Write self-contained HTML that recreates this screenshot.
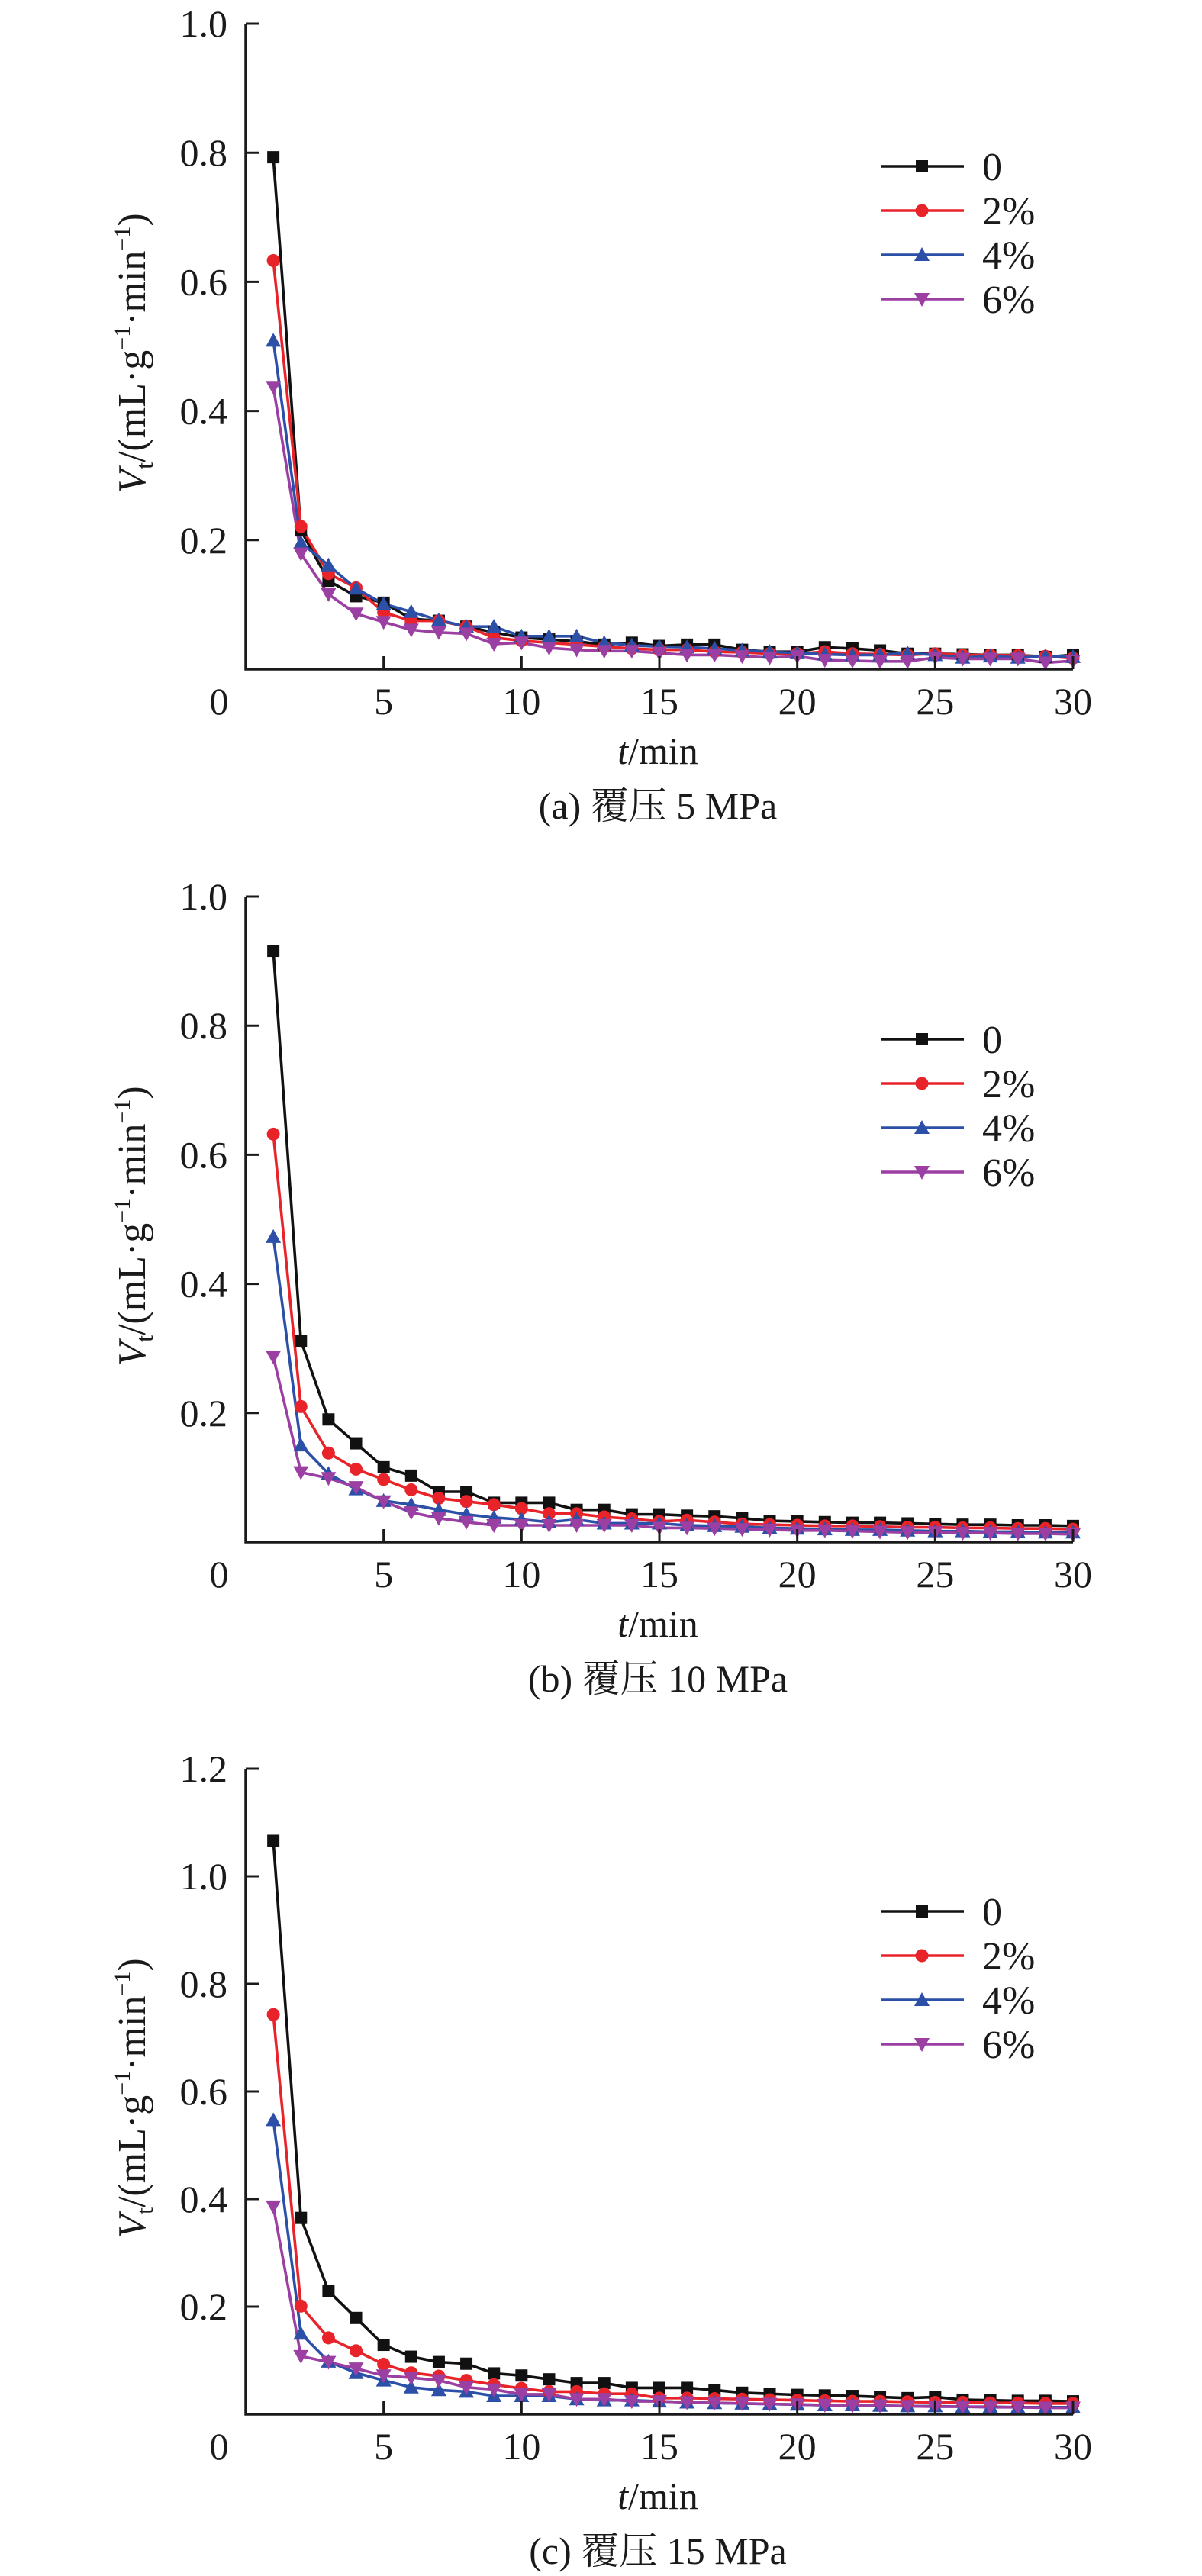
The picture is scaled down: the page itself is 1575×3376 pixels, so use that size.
<!DOCTYPE html>
<html><head><meta charset="utf-8">
<style>
html,body{margin:0;padding:0;background:#fff;}
svg{display:block;font-family:"Liberation Serif","Noto Serif CJK SC","Noto Sans CJK SC",serif;}
</style></head>
<body>
<svg id="fig" width="1575" height="3376" viewBox="0 0 1575 3376" xmlns="http://www.w3.org/2000/svg"></svg>
<script>
const times = [1,2,3,4,5,6,7,8,9,10,11,12,13,14,15,16,17,18,19,20,21,22,23,24,25,26,27,28,29,30];
const seriesNames = ["0","2%","4%","6%"];
const xTicks = [0,5,10,15,20,25,30];
const yTicksA = [0.2,0.4,0.6,0.8,1.0];
const yTicksC = [0.2,0.4,0.6,0.8,1.0,1.2];
const captions = ["(a) 覆压 5 MPa","(b) 覆压 10 MPa","(c) 覆压 15 MPa"];

const a0 = [0.793,0.215,0.137,0.113,0.103,0.078,0.075,0.066,0.057,0.049,0.046,0.043,0.038,0.041,0.036,0.038,0.038,0.030,0.027,0.027,0.034,0.032,0.029,0.024,0.024,0.023,0.022,0.022,0.019,0.022];
const a2 = [0.633,0.221,0.148,0.126,0.088,0.075,0.075,0.066,0.049,0.044,0.041,0.038,0.035,0.032,0.030,0.030,0.027,0.026,0.024,0.024,0.027,0.024,0.023,0.022,0.024,0.022,0.022,0.021,0.020,0.017];
const a4 = [0.509,0.196,0.161,0.125,0.101,0.089,0.076,0.066,0.066,0.051,0.051,0.051,0.041,0.037,0.035,0.034,0.032,0.029,0.027,0.025,0.023,0.022,0.022,0.025,0.022,0.018,0.020,0.018,0.020,0.019];
const a6 = [0.437,0.179,0.116,0.086,0.073,0.061,0.057,0.055,0.039,0.041,0.033,0.030,0.028,0.028,0.025,0.022,0.022,0.020,0.018,0.020,0.014,0.013,0.012,0.012,0.018,0.016,0.016,0.016,0.010,0.013];

const b0 = [0.916,0.312,0.190,0.153,0.116,0.103,0.078,0.078,0.061,0.061,0.061,0.050,0.050,0.043,0.043,0.041,0.040,0.037,0.033,0.032,0.031,0.030,0.030,0.029,0.028,0.027,0.027,0.026,0.026,0.025];
const b2 = [0.632,0.210,0.138,0.113,0.097,0.081,0.068,0.063,0.058,0.052,0.044,0.044,0.039,0.036,0.032,0.034,0.031,0.028,0.027,0.026,0.025,0.025,0.024,0.023,0.023,0.022,0.022,0.021,0.021,0.020];
const b4 = [0.473,0.150,0.106,0.082,0.064,0.058,0.050,0.043,0.038,0.035,0.031,0.035,0.029,0.029,0.029,0.026,0.025,0.024,0.022,0.021,0.020,0.019,0.019,0.018,0.017,0.017,0.016,0.016,0.015,0.015];
const b6 = [0.287,0.108,0.099,0.085,0.063,0.046,0.037,0.031,0.026,0.026,0.026,0.026,0.026,0.026,0.022,0.022,0.021,0.020,0.019,0.018,0.018,0.017,0.016,0.015,0.015,0.014,0.014,0.013,0.013,0.012];

const c0 = [1.066,0.365,0.229,0.179,0.129,0.107,0.097,0.094,0.076,0.072,0.065,0.058,0.058,0.049,0.049,0.049,0.045,0.040,0.038,0.036,0.035,0.034,0.032,0.030,0.032,0.027,0.026,0.025,0.025,0.024];
const c2 = [0.743,0.201,0.142,0.118,0.093,0.077,0.071,0.063,0.055,0.048,0.042,0.042,0.038,0.038,0.030,0.030,0.029,0.028,0.027,0.026,0.025,0.024,0.024,0.023,0.022,0.022,0.021,0.021,0.020,0.020];
const c4 = [0.547,0.150,0.098,0.077,0.063,0.050,0.045,0.042,0.034,0.034,0.034,0.028,0.026,0.026,0.024,0.022,0.021,0.020,0.019,0.018,0.017,0.017,0.016,0.015,0.015,0.014,0.014,0.013,0.013,0.013];
const c6 = [0.386,0.108,0.097,0.085,0.072,0.068,0.063,0.050,0.046,0.037,0.037,0.028,0.028,0.024,0.024,0.022,0.021,0.020,0.019,0.018,0.017,0.016,0.016,0.015,0.014,0.014,0.013,0.013,0.012,0.012];

const colors = ["#111111","#e8232a","#2c4fa8","#9b3fa3"];
const NS = "http://www.w3.org/2000/svg";
const svg = document.getElementById("fig");
function mk(tag, attrs, parent){ const e=document.createElementNS(NS,tag); for(const k in attrs) e.setAttribute(k,attrs[k]); (parent||svg).appendChild(e); return e; }

function marker(g, kind, x, y, col){
  let m;
  if(kind===0) m = mk("rect",{x:x-8,y:y-8,width:16,height:16,fill:col},g);
  else if(kind===1) m = mk("circle",{cx:x,cy:y,r:8.5,fill:col},g);
  else if(kind===2) m = mk("polygon",{points:`${x},${y-10} ${x-10},${y+8} ${x+10},${y+8}`,fill:col},g);
  else m = mk("polygon",{points:`${x},${y+10} ${x-10},${y-8} ${x+10},${y-8}`,fill:col},g);
  
  
  return m;
}

function chart(idx, offY, yMax, yTicks, data){
  const x0=322, x1=1406, yBase=877+offY, yTop=31+offY;
  const X = t => x0 + (t/30)*(x1-x0);
  const Y = v => yBase - (v/yMax)*(yBase-yTop);
  const g = mk("g",{});
  
  
  data.forEach((arr,si)=>{
    const pts = arr.map((v,i)=>X(times[i])+","+Y(v)).join(" ");
    const pl = mk("polyline",{points:pts,fill:"none",stroke:colors[si],"stroke-width":3.6,"stroke-linejoin":"round"},g);
    
    
  });
  data.forEach((arr,si)=>{ arr.forEach((v,i)=>marker(g,si,X(times[i]),Y(v),colors[si])); });
  const ax = mk("path",{d:`M${x0},${yTop} V${yBase} H${x1}`,fill:"none",stroke:"#1a1a1a","stroke-width":3.5},g);
  
  
  yTicks.forEach(v=>{
    const t=mk("line",{x1:x0,x2:x0+17,y1:Y(v),y2:Y(v),stroke:"#1a1a1a","stroke-width":3},g);
    
    
    const tx=mk("text",{x:298,y:Y(v)+17,"text-anchor":"end","font-size":50,fill:"#1a1a1a"},g);
    
    
    tx.textContent=v.toFixed(1);
  });
  xTicks.forEach(v=>{
    if(v>0){ const t=mk("line",{x1:X(v),x2:X(v),y1:yBase,y2:yBase-17,stroke:"#1a1a1a","stroke-width":3},g);
      
       }
    const tx=mk("text",{x:v===0?287:X(v),y:yBase+59,"text-anchor":"middle","font-size":50,fill:"#1a1a1a"},g);
    
    
    tx.textContent=v;
  });
  const xt=mk("text",{x:862,y:1001+offY,"text-anchor":"middle","font-size":50,fill:"#1a1a1a"},g);
  
  
  xt.innerHTML='<tspan font-style="italic">t</tspan>/min';
  const yt=mk("text",{x:0,y:0,"text-anchor":"middle","font-size":52,fill:"#1a1a1a",transform:`translate(190,${463+offY}) rotate(-90)`},g);
  
  
  yt.innerHTML='<tspan font-style="italic">V</tspan><tspan font-size="32" dy="10">t</tspan><tspan dy="-10">/(mL·g</tspan><tspan font-size="30" dy="-20">−1</tspan><tspan dy="20">·min</tspan><tspan font-size="30" dy="-20">−1</tspan><tspan dy="20">)</tspan>';
  const cp=mk("text",{x:862,y:1073+offY,"text-anchor":"middle","font-size":50,fill:"#1a1a1a"},g);
  
  
  cp.textContent=captions[idx];
  seriesNames.forEach((n,si)=>{
    const ly=218+offY+si*58;
    const le=mk("g",{},g);
    
    
    mk("line",{x1:1154,x2:1263,y1:ly,y2:ly,stroke:colors[si],"stroke-width":3.6},le);
    marker(le,si,1208,ly,colors[si]);
    const t=mk("text",{x:1287,y:ly+18,"font-size":52,fill:"#1a1a1a"},le);
    t.textContent=n;
  });
}
chart(0,0,1.0,yTicksA,[a0,a2,a4,a6]);
chart(1,1144,1.0,yTicksA,[b0,b2,b4,b6]);
chart(2,2287,1.2,yTicksC,[c0,c2,c4,c6]);
</script>
</body></html>
